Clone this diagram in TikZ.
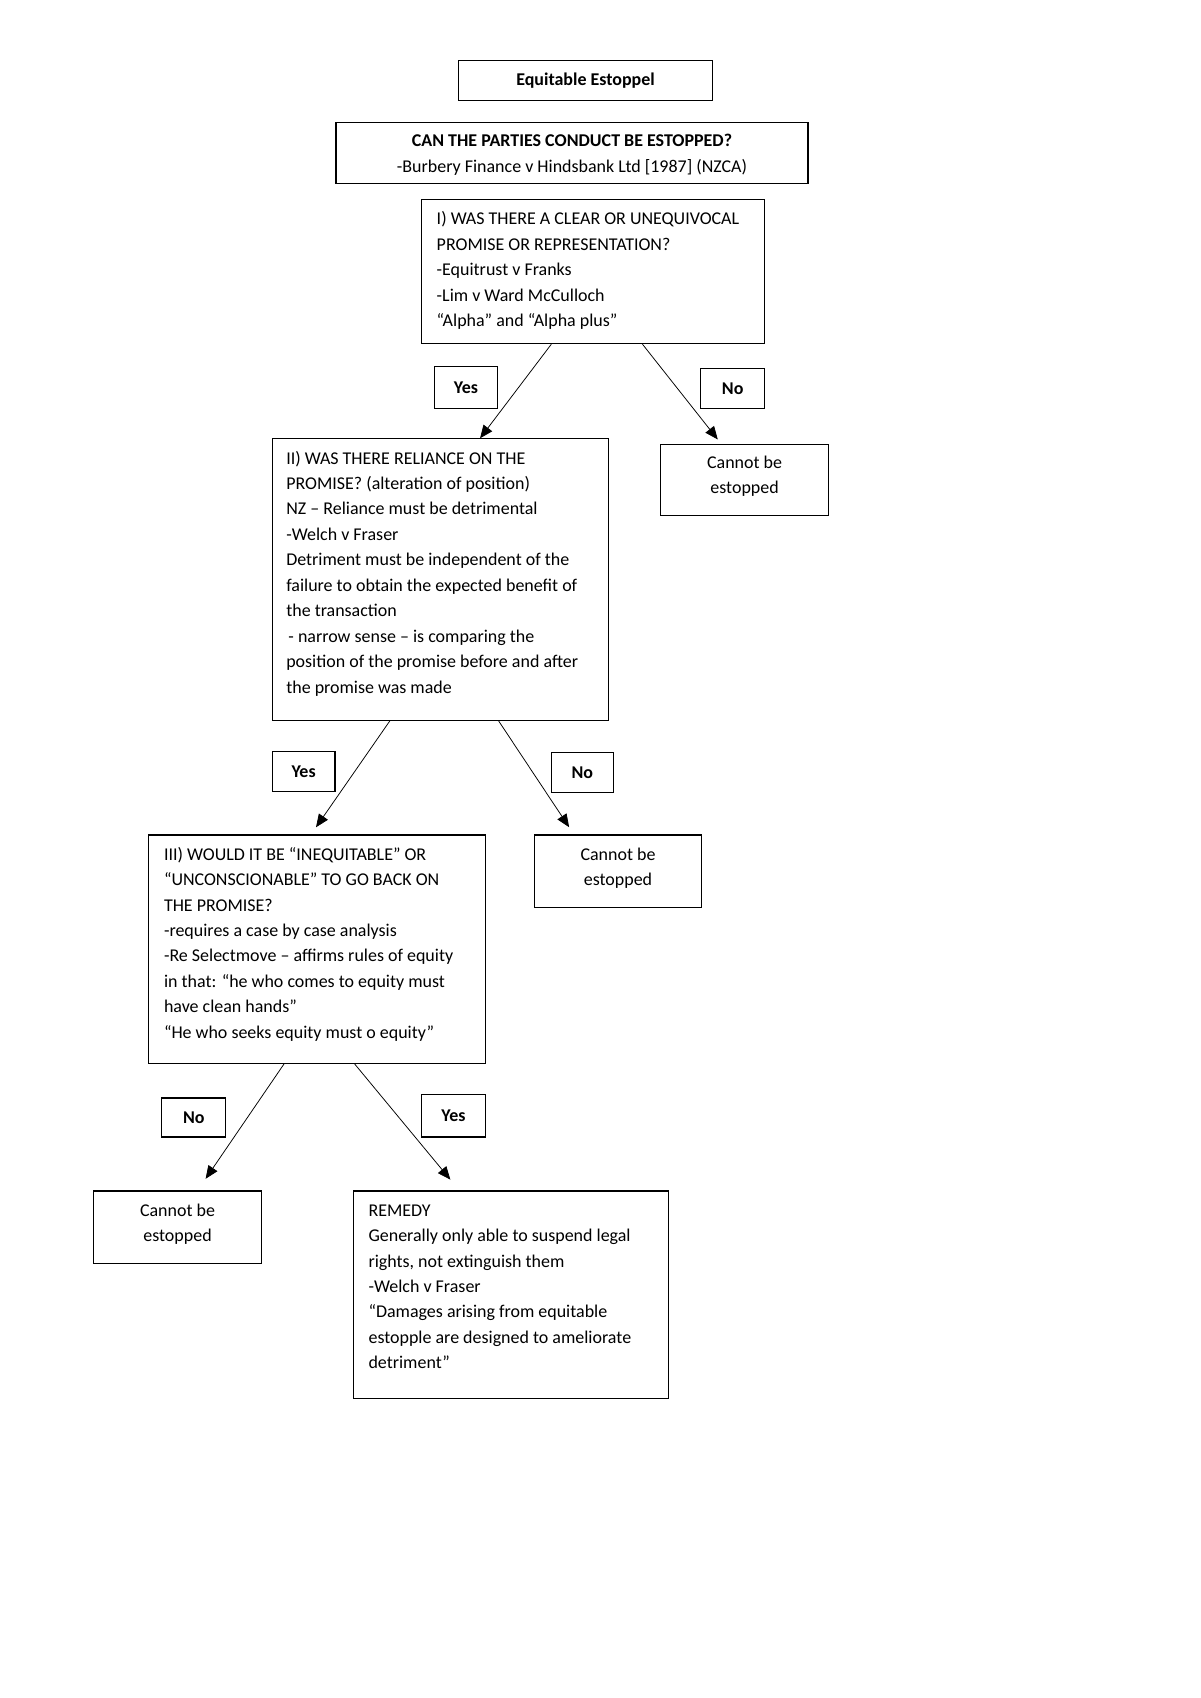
\documentclass[tikz,border=0pt]{standalone}
\usepackage{fontspec}
\setmainfont{Carlito}
\usetikzlibrary{arrows.meta,calc}
\newcommand{\tbx}[3]{\parbox[c][#2pt][t]{#1pt}{#3}}
\begin{document}
\begin{tikzpicture}[x=1pt,y=-1pt,
  every node/.style={font=\fontsize{16.6}{23.5}\selectfont},
  box/.style={draw, line width=1.1pt, inner sep=0pt, anchor=north west},
  lbl/.style={draw, line width=1.1pt, inner sep=0pt, minimum width=58pt, minimum height=38pt, anchor=north west, font=\fontsize{16.6}{23.5}\selectfont\bfseries},
  arr/.style={line width=0.7pt, -{Triangle[length=12pt,width=10pt]}}
]
\useasboundingbox (0,0) rectangle (1109,1569);
\fill[white] (0,0) rectangle (1109,1569);

% title
\node[box, minimum width=235pt, minimum height=37pt, font=\fontsize{16.6}{23.5}\selectfont\bfseries] (title) at (423,55) {Equitable Estoppel};

% question box
\node[box] (can) at (310,113) {\tbx{436}{56}{\centering\rule{0pt}{22pt}\textbf{CAN THE PARTIES CONDUCT BE ESTOPPED?}\\ -Burbery Finance v Hindsbank Ltd [1987] (NZCA)\par}};

% box I
\node[box] (b1) at (389,184) {\tbx{317}{133}{\leftskip=14pt\rule{0pt}{23.3pt}I) WAS THERE A CLEAR OR UNEQUIVOCAL\\ PROMISE OR REPRESENTATION?\\ -Equitrust v Franks\\ -Lim v Ward McCulloch\\ “Alpha” and “Alpha plus”\par}};

% box II
\node[box] (b2) at (251,405) {\tbx{311}{260}{\leftskip=13pt\rule{0pt}{23.3pt}II) WAS THERE RELIANCE ON THE\\ PROMISE? (alteration of position)\\ NZ – Reliance must be detrimental\\ -Welch v Fraser\\ Detriment must be independent of the\\ failure to obtain the expected benefit of\\ the transaction\\ \hspace*{2pt}- narrow sense – is comparing the\\ position of the promise before and after\\ the promise was made\par}};

% cannot 1
\node[box] (c1) at (610,410) {\tbx{155}{66}{\centering\rule{0pt}{22.3pt}Cannot be\\ estopped\par}};

% box III
\node[box] (b3) at (137,771) {\tbx{311}{211}{\leftskip=14pt\rule{0pt}{23.3pt}III) WOULD IT BE “INEQUITABLE” OR\\ “UNCONSCIONABLE” TO GO BACK ON\\ THE PROMISE?\\ -requires a case by case analysis\\ -Re Selectmove – affirms rules of equity\\ in that: “he who comes to equity must\\ have clean hands”\\ “He who seeks equity must o equity”\par}};

% cannot 2
\node[box] (c2) at (493,771) {\tbx{155}{67}{\centering\rule{0pt}{23.3pt}Cannot be\\ estopped\par}};

% cannot 3
\node[box] (c3) at (86,1100) {\tbx{155}{67}{\centering\rule{0pt}{23.3pt}Cannot be\\ estopped\par}};

% remedy
\node[box] (rem) at (326,1100) {\tbx{291}{192}{\leftskip=14pt\rule{0pt}{23.3pt}REMEDY\\ Generally only able to suspend legal\\ rights, not extinguish them\\ -Welch v Fraser\\ “Damages arising from equitable\\ estopple are designed to ameliorate\\ detriment”\par}};

% labels
\node[lbl, minimum height=39pt] (y1) at (401,338) {Yes};
\node[lbl, minimum width=59pt, minimum height=37pt] (n1) at (647,340) {No};
\node[lbl, minimum height=37pt] (y2) at (251,694) {Yes};
\node[lbl, minimum width=57pt, minimum height=37pt] (n2) at (509,695) {No};
\node[lbl, minimum width=59pt, minimum height=36pt] (n3) at (149,1014) {No};
\node[lbl, minimum width=59pt, minimum height=39pt] (y3) at (389,1011) {Yes};

% connectors
\draw[arr] ($(b1.south west)!0.3785!(b1.south east)$) -- ($(b2.north west)!0.617!(b2.north east)$);
\draw[arr, shorten >=5pt] ($(b1.south west)!0.6435!(b1.south east)$) -- ($(c1.north west)!0.361!(c1.north east)$);
\draw[arr, shorten >=8pt] ($(b2.south west)!0.350!(b2.south east)$) -- ($(b3.north west)!0.482!(b3.north east)$);
\draw[arr, shorten >=8pt] ($(b2.south west)!0.672!(b2.south east)$) -- ($(c2.north west)!0.239!(c2.north east)$);
\draw[arr, shorten >=13pt] ($(b3.south west)!0.402!(b3.south east)$) -- ($(c3.north west)!0.619!(c3.north east)$);
\draw[arr, shorten >=13pt] ($(b3.south west)!0.611!(b3.south east)$) -- ($(rem.north west)!0.337!(rem.north east)$);
\end{tikzpicture}
\end{document}
